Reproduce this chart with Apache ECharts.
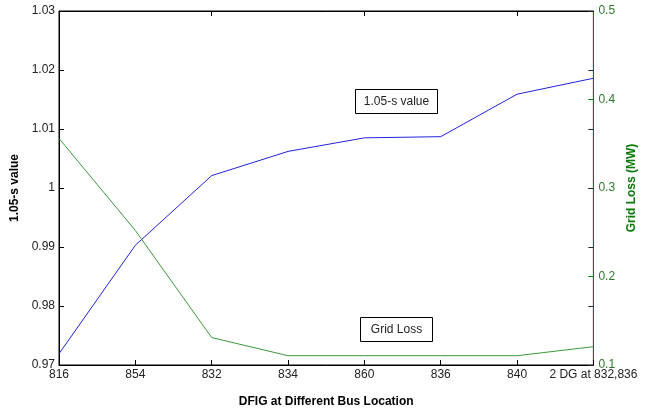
<!DOCTYPE html>
<html>
<head>
<meta charset="utf-8">
<script src="https://cdn.jsdelivr.net/npm/echarts@6/dist/echarts.min.js"></script>
<style>
  html, body { margin: 0; padding: 0; background: #fff; }
  #chart { width: 646px; height: 413px; }
</style>
</head>
<body>
<div id="chart"></div>
<script>
// bus locations on the x axis
const categories = ['816', '854', '832', '834', '860', '836', '840', '2 DG at 832,836'];
// 1.05-s value (left axis)
const svalue = [0.9719, 0.9903, 1.0021, 1.0062, 1.0085, 1.0087, 1.0159, 1.0186];
// grid loss in MW (right axis)
const gridLoss = [0.356, 0.252, 0.131, 0.1105, 0.1105, 0.1105, 0.1105, 0.1207];

const leftMin = 0.97, leftMax = 1.03, leftStep = 0.01;
const rightMin = 0.1, rightMax = 0.5, rightStep = 0.1;

const font = 'Liberation Sans, Arial, sans-serif';
const chart = echarts.init(document.getElementById('chart'));

const option = {
  animation: false,
  backgroundColor: '#fff',
  textStyle: { fontFamily: font },
  grid: {
    left: 59, right: 46, top: 11, bottom: 48,
    show: true, borderColor: '#000', borderWidth: 1, backgroundColor: '#fff'
  },
  xAxis: [
    {
      type: 'category',
      data: categories,
      boundaryGap: false,
      name: 'DFIG at Different Bus Location',
      nameLocation: 'middle',
      nameGap: 31,
      nameTextStyle: { fontSize: 12, fontWeight: 'bold', color: '#000', fontFamily: font },
      axisLine: { lineStyle: { color: '#000', width: 1 } },
      axisTick: { inside: true, length: 5, alignWithLabel: true, lineStyle: { color: '#000' } },
      axisLabel: { color: '#222', fontSize: 12, margin: 4, interval: 0, fontFamily: font },
      splitLine: { show: false }
    },
    {
      // top box edge with matching ticks
      type: 'category',
      data: categories,
      boundaryGap: false,
      position: 'top',
      axisLine: { lineStyle: { color: '#000' } },
      axisTick: { inside: true, length: 5, lineStyle: { color: '#000' } },
      axisLabel: { show: false },
      splitLine: { show: false }
    }
  ],
  yAxis: [
    {
      type: 'value',
      min: leftMin, max: leftMax, interval: leftStep,
      name: '1.05-s value',
      nameLocation: 'middle',
      nameGap: 38,
      nameTextStyle: { fontSize: 12, fontWeight: 'bold', color: '#000', fontFamily: font },
      axisLine: { show: true, lineStyle: { color: '#000' } },
      axisTick: { show: true, inside: true, length: 5, lineStyle: { color: '#000' } },
      axisLabel: { color: '#222', fontSize: 12, margin: 4, fontFamily: font },
      splitLine: { show: false }
    },
    {
      type: 'value',
      position: 'right',
      min: rightMin, max: rightMax, interval: rightStep,
      name: 'Grid Loss (MW)',
      nameLocation: 'middle',
      nameGap: 30,
      nameRotate: 90,
      nameTextStyle: { fontSize: 12, fontWeight: 'bold', color: '#0a7a0a', fontFamily: font },
      axisLine: { show: true, lineStyle: { color: '#007a00', width: 1 } },
      axisTick: { show: true, inside: true, length: 5, lineStyle: { color: '#007a00' } },
      axisLabel: { color: '#2a7a2a', fontSize: 12, margin: 5, fontFamily: font },
      splitLine: { show: false }
    },
    {
      // left-scale ticks mirrored on the right edge
      type: 'value',
      position: 'right',
      min: leftMin, max: leftMax, interval: leftStep,
      axisLine: { show: false },
      axisTick: { show: true, inside: true, length: 5, lineStyle: { color: '#222' } },
      axisLabel: { show: false },
      splitLine: { show: false }
    }
  ],
  series: [
    {
      name: '1.05-s value',
      type: 'line',
      data: svalue,
      xAxisIndex: 0,
      yAxisIndex: 0,
      symbol: 'none',
      lineStyle: { color: '#2222dd', width: 1 },
      z: 3
    },
    {
      name: 'Grid Loss',
      type: 'line',
      data: gridLoss,
      xAxisIndex: 0,
      yAxisIndex: 1,
      symbol: 'none',
      lineStyle: { color: '#3d993d', width: 1 },
      z: 3
    }
  ],
  graphic: [
    {
      type: 'group',
      left: 355, top: 89,
      children: [
        { type: 'rect', shape: { x: 0, y: 0, width: 82, height: 24 },
          style: { fill: '#fff', stroke: '#000', lineWidth: 1 } },
        { type: 'text', x: 41, y: 12,
          style: { text: '1.05-s value', font: '12px ' + font, fill: '#222', align: 'center', verticalAlign: 'middle' } }
      ]
    },
    {
      type: 'group',
      left: 360, top: 317,
      children: [
        { type: 'rect', shape: { x: 0, y: 0, width: 72, height: 24 },
          style: { fill: '#fff', stroke: '#000', lineWidth: 1 } },
        { type: 'text', x: 36, y: 12,
          style: { text: 'Grid Loss', font: '12px ' + font, fill: '#222', align: 'center', verticalAlign: 'middle' } }
      ]
    }
  ]
};

chart.setOption(option);
</script>
</body>
</html>
